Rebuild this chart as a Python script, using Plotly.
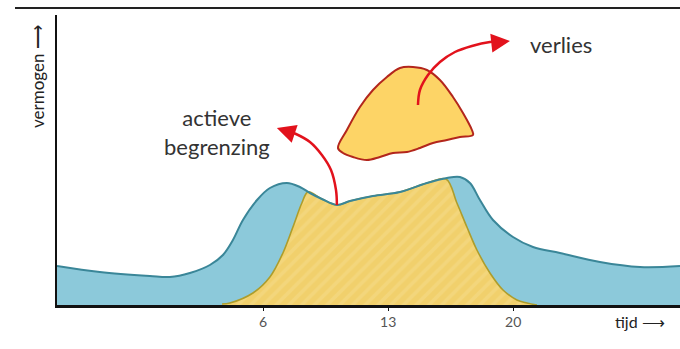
import plotly.graph_objects as go

# ---- data (time in hours, power in arbitrary units) ----
blue_t = [-5.54, -3.14, -0.34, 0.78, 1.90, 3.02, 3.75, 4.31, 4.87, 5.66, 6.38, 7.33, 8.06, 8.62,
          9.29, 10.13, 10.86, 12.15, 13.66, 15.17, 16.29, 17.02, 17.58, 18.14, 18.87, 19.99,
          21.11, 22.62, 24.86, 27.10, 29.34]
blue_p = [39, 33, 29, 28, 32, 40, 50, 65, 85, 105, 117, 122, 118, 112,
          106, 100, 104, 109, 113, 122, 127, 128, 122, 105, 85, 68,
          58, 52, 43, 38, 39]

yellow_t = [3.70, 4.14, 5.43, 6.38, 7.11, 7.67, 8.17, 8.51, 9.29, 10.13, 10.86, 12.15, 13.66,
            15.17, 16.24, 16.85, 17.41, 17.97, 18.70, 19.43, 20.21, 20.77, 21.33]
yellow_p = [1, 2, 12, 28, 52, 78, 102, 113, 106, 100, 104, 109, 113,
            122, 126, 102, 78, 55, 32, 15, 5, 2, 0]

loss_t = [10.19, 10.69, 11.42, 12.15, 12.93, 13.66, 14.39, 15.17, 15.90, 16.63, 17.19, 17.69,
          17.75, 17.02, 16.29, 15.51, 14.78, 14.05, 13.27, 12.54, 11.81, 11.03, 10.47, 10.19]
loss_p = [157, 175, 198, 215, 228, 237, 238, 235, 225, 208, 192, 175,
          170, 168, 165, 162, 157, 153, 152, 148, 145, 148, 152, 157]

arrow_loss_t = [14.67, 14.78, 15.23, 15.90, 16.74, 17.69, 18.70, 19.54]
arrow_loss_p = [200, 215, 230, 243, 253, 259, 263, 264]
arrow_clip_t = [10.13, 10.08, 9.80, 9.29, 8.62, 7.84, 7.22]
arrow_clip_p = [100, 115, 135, 150, 163, 171, 175]

tick_vals = [6, 13, 20]
tick_text = ["6", "13", "20"]

BLUE_FILL = "#8cc9da"
BLUE_LINE = "#3a8698"
YEL_FILL = "#f1d06c"
YEL_STRIPE = "#f6dc8c"
YEL_LINE = "#ad9d2c"
LOSS_FILL = "#fdd466"
LOSS_LINE = "#b3261c"
RED = "#e2121c"
FONT = "Lato"

fig = go.Figure()
fig.add_trace(go.Scatter(x=blue_t, y=blue_p, mode="lines", line=dict(shape="spline", color=BLUE_LINE, width=0),
                         fill="tozeroy", fillcolor=BLUE_FILL, hoverinfo="skip"))
fig.add_trace(go.Scatter(x=yellow_t, y=yellow_p, mode="lines", line=dict(shape="spline", color=YEL_LINE, width=1.6),
                         fill="tozeroy", fillcolor=YEL_FILL,
                         fillpattern=dict(shape="/", bgcolor=YEL_FILL, fgcolor=YEL_STRIPE, size=9, solidity=0.4),
                         hoverinfo="skip"))
fig.add_trace(go.Scatter(x=blue_t, y=blue_p, mode="lines",
                         line=dict(shape="spline", color=BLUE_LINE, width=2), hoverinfo="skip"))
fig.add_trace(go.Scatter(x=loss_t, y=loss_p, mode="lines", line=dict(shape="spline", color=LOSS_LINE, width=2),
                         fill="toself", fillcolor=LOSS_FILL, hoverinfo="skip"))
fig.add_trace(go.Scatter(x=arrow_loss_t, y=arrow_loss_p, mode="lines", line=dict(shape="spline", color=RED, width=2.5),
                         hoverinfo="skip"))
fig.add_trace(go.Scatter(x=arrow_clip_t, y=arrow_clip_p, mode="lines", line=dict(shape="spline", color=RED, width=2.5),
                         hoverinfo="skip"))

annotations = [
    dict(x=19.82, y=264, ax=-9, ay=1, text="", showarrow=True, arrowhead=2, arrowsize=1.5,
         arrowwidth=2.5, arrowcolor=RED, standoff=0),
    dict(x=6.77, y=177, ax=9, ay=3, text="", showarrow=True, arrowhead=2, arrowsize=1.5,
         arrowwidth=2.5, arrowcolor=RED, standoff=0),
    dict(x=20.83, y=261, xanchor="left", yanchor="middle", text="verlies", showarrow=False,
         font=dict(family=FONT, size=22, color="#333333")),
    dict(x=3.42, y=173, xanchor="center", yanchor="middle", text="actieve<br>begrenzing", showarrow=False,
         font=dict(family=FONT, size=22, color="#333333")),
    dict(xref="paper", yref="paper", x=(640 - 57) / 623, y=(305 - 321) / 290, xanchor="center", yanchor="middle",
         text="tijd ⟶", showarrow=False, font=dict(family=FONT, size=16, color="#222222")),
    dict(xref="paper", yref="paper", x=(37 - 57) / 623, y=(305 - 77) / 290, xanchor="center", yanchor="middle",
         text="vermogen ⟶", textangle=-90, showarrow=False, font=dict(family=FONT, size=17, color="#222222")),
]

fig.update_layout(
    width=680, height=349,
    margin=dict(l=57, r=0, t=15, b=44),
    paper_bgcolor="white", plot_bgcolor="white",
    showlegend=False,
    annotations=annotations,
    shapes=[dict(type="line", xref="paper", yref="paper", x0=(15 - 57) / 623, x1=1.0,
                 y0=(305 - 8) / 290, y1=(305 - 8) / 290, line=dict(color="#222222", width=2))],
    xaxis=dict(range=[-5.54, 29.34], showgrid=False, zeroline=False, showline=True, linecolor="#111111",
               linewidth=2.5, tickvals=tick_vals, ticktext=tick_text, ticks="outside", ticklen=3,
               tickcolor="#111111", tickwidth=1, tickfont=dict(family=FONT, size=14, color="#555555"),
               fixedrange=True),
    yaxis=dict(range=[0, 290], showgrid=False, zeroline=False, showline=True, linecolor="#111111",
               linewidth=2.5, showticklabels=False, ticks="", fixedrange=True),
)

fig.write_html("out.html", config={"displayModeBar": False, "staticPlot": True},
               post_script="document.body.style.margin='0';document.body.style.overflow='hidden';")
